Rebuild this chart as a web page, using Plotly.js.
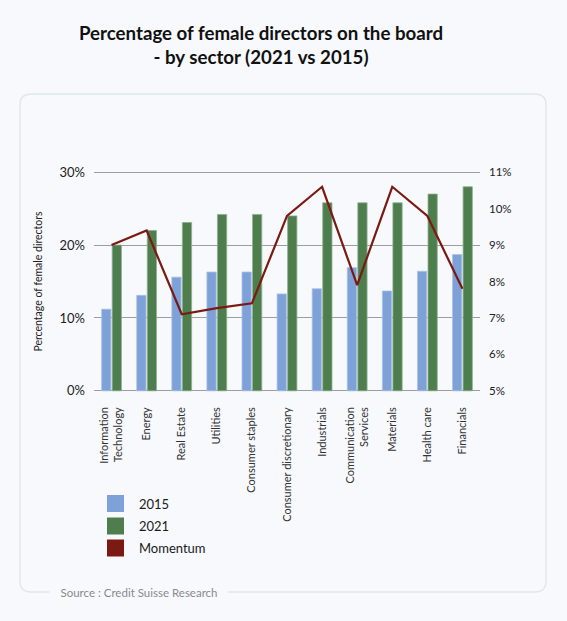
<!DOCTYPE html>
<html>
<head>
<meta charset="utf-8">
<script src="https://cdn.plot.ly/plotly-3.0.1.min.js"></script>
<style>
  html, body { margin: 0; padding: 0; background: #f7f9fc; }
  #chart { width: 567px; height: 621px; }
</style>
</head>
<body>
<div id="chart"></div>
<script>
// ---- Data ----
const categories = [
  "Information<br>Technology", "Energy", "Real Estate", "Utilities", "Consumer staples",
  "Consumer discretionary", "Industrials", "Communication<br>Services", "Materials",
  "Health care", "Financials"
];
const values2015 = [11.2, 13.1, 15.6, 16.3, 16.3, 13.3, 14.0, 16.9, 13.7, 16.4, 18.7];
const values2021 = [20.0, 22.0, 23.1, 24.2, 24.2, 24.0, 25.8, 25.8, 25.8, 27.0, 28.0];
const momentum   = [9.0, 9.4, 7.1, 7.27, 7.4, 9.8, 10.6, 7.9, 10.6, 9.8, 7.8];
const seriesNames = ["2015", "2021", "Momentum"];
const seriesColors = ["#7ea1d8", "#4e7d4e", "#7a1a12"];
const leftTicks = [0, 10, 20, 30];
const rightTicks = [5, 6, 7, 8, 9, 10, 11];
const titleText = "Percentage of female directors on the board<br>- by sector (2021 vs 2015)";
const yTitle = "Percentage of female directors";
const sourceText = "Source : Credit Suisse Research";

// ---- Layout geometry (pixels) ----
const W = 567, H = 621;
const M = {l: 94, r: 87, t: 170, b: 228};
const PW = W - M.l - M.r, PH = H - M.t - M.b;
const px = x => (x - M.l) / PW;
const py = y => (H - M.b - y) / PH;
const BG = "#f7f9fc";
const FONT = "Lato, 'Open Sans', sans-serif";

const traces = [
  {
    type: "bar", name: seriesNames[0], x: categories, y: values2015,
    marker: {color: seriesColors[0], line: {color: "#a9c1e8", width: 0.8}},
    showlegend: false, hoverinfo: "skip"
  },
  {
    type: "bar", name: seriesNames[1], x: categories, y: values2021,
    marker: {color: seriesColors[1], line: {color: "#8fb08f", width: 0.8}},
    showlegend: false, hoverinfo: "skip"
  },
  {
    type: "scatter", mode: "lines", name: seriesNames[2], x: categories, y: momentum,
    yaxis: "y2", line: {color: seriesColors[2], width: 2.2},
    showlegend: false, hoverinfo: "skip"
  }
];

// Card outline with rounded corners (paper coords)
const cx0 = 20, cx1 = 546, cy0 = 94, cy1 = 592, r = 11;
const cardPath =
  `M${px(cx0 + r)},${py(cy0)} L${px(cx1 - r)},${py(cy0)} Q${px(cx1)},${py(cy0)} ${px(cx1)},${py(cy0 + r)} ` +
  `L${px(cx1)},${py(cy1 - r)} Q${px(cx1)},${py(cy1)} ${px(cx1 - r)},${py(cy1)} ` +
  `L${px(cx0 + r)},${py(cy1)} Q${px(cx0)},${py(cy1)} ${px(cx0)},${py(cy1 - r)} ` +
  `L${px(cx0)},${py(cy0 + r)} Q${px(cx0)},${py(cy0)} ${px(cx0 + r)},${py(cy0)} Z`;

const shapes = [
  {type: "path", xref: "paper", yref: "paper", path: cardPath,
   line: {color: "#e1e5ed", width: 1.3}, fillcolor: "rgba(0,0,0,0)", layer: "below"}
];
const annotations = [];

// Manual legend with square swatches
const legTop = [495, 517.5, 539.5];
seriesNames.forEach((name, i) => {
  shapes.push({type: "rect", xref: "paper", yref: "paper",
    x0: px(107), x1: px(124), y0: py(legTop[i]), y1: py(legTop[i] + 17),
    fillcolor: seriesColors[i], line: {width: 0}});
  annotations.push({xref: "paper", yref: "paper", x: px(137), y: py(legTop[i] + 8.5),
    xanchor: "left", yanchor: "middle", showarrow: false, text: name,
    font: {family: FONT, size: 13, color: "#1a1a1a"}});
});

annotations.push({xref: "paper", yref: "paper", x: px(139), y: py(592),
  xanchor: "center", yanchor: "middle", showarrow: false, text: sourceText,
  width: 178, bgcolor: BG, borderpad: 0,
  font: {family: FONT, size: 11.5, color: "#8a8a8a"}});

const layout = {
  width: W, height: H,
  margin: M,
  paper_bgcolor: BG, plot_bgcolor: "rgba(0,0,0,0)",
  font: {family: FONT, color: "#222"},
  title: {
    text: titleText, xref: "container", yref: "container",
    x: 261 / W, xanchor: "center", y: 1 - 40 / H, yanchor: "top",
    pad: {t: 0, b: 0},
    font: {family: FONT, size: 18.7, weight: 700, color: "#111"}
  },
  barmode: "group", bargap: 0.4, bargroupgap: 0.12,
  showlegend: false,
  xaxis: {
    type: "category", tickangle: -90, ticks: "", ticklabelstandoff: 11,
    tickfont: {family: FONT, size: 11, color: "#333"},
    showgrid: false, zeroline: false, showline: false, fixedrange: true
  },
  yaxis: {
    range: [-0.3, 30.3], tickvals: leftTicks, ticktext: leftTicks.map(v => v + "%"),
    showgrid: true, gridcolor: "#9d9d9d", gridwidth: 1,
    zeroline: false, showline: false, ticks: "", ticklabelstandoff: 8,
    tickfont: {family: FONT, size: 13, color: "#222"},
    title: {text: yTitle, standoff: 14, font: {family: FONT, size: 10.5, color: "#222"}},
    fixedrange: true
  },
  yaxis2: {
    range: [4.94, 11.06], overlaying: "y", side: "right",
    tickvals: rightTicks, ticktext: rightTicks.map(v => v + "%"),
    showgrid: false, zeroline: false, showline: false, ticks: "", ticklabelstandoff: 8,
    tickfont: {family: FONT, size: 11.5, color: "#222"},
    fixedrange: true
  },
  shapes: shapes,
  annotations: annotations
};

Plotly.newPlot("chart", traces, layout, {staticPlot: true, displayModeBar: false});
</script>
</body>
</html>
